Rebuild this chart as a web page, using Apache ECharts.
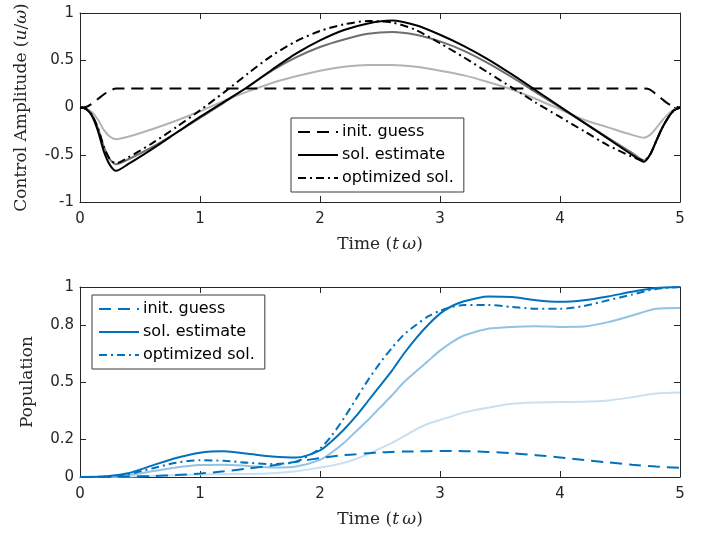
<!DOCTYPE html>
<html lang="en">
  <head>
    <meta charset="utf-8">
    <title>Control amplitude and population</title>
    <script src="https://cdn.jsdelivr.net/npm/echarts@6/dist/echarts.min.js"></script>
    <style>
      html, body { margin: 0; padding: 0; background: #fff; }
      #chart { width: 714px; height: 536px; }
    </style>
  </head>
  <body>
    <div id="chart"></div>
    <script type="text/javascript">
    // top panel: control amplitude u/omega
    const tTop = [0, 0.05, 0.1, 0.15, 0.2, 0.25, 0.3, 0.4, 0.6, 0.8, 1.0, 1.2, 1.4, 1.6, 1.8, 2.0, 2.2, 2.4, 2.6, 2.8,
      3.0, 3.2, 3.4, 3.6, 3.8, 4.0, 4.2, 4.4, 4.6, 4.7, 4.75, 4.8, 4.85, 4.9, 4.95, 5.0];
    const ctrlGuess = [0, 0.005, 0.04, 0.09, 0.14, 0.18, 0.2, 0.2, 0.2, 0.2, 0.2, 0.2, 0.2, 0.2, 0.2, 0.2, 0.2, 0.2, 0.2, 0.2,
      0.2, 0.2, 0.2, 0.2, 0.2, 0.2, 0.2, 0.2, 0.2, 0.2, 0.19, 0.14, 0.09, 0.04, 0.01, 0];
    const ctrlIter1 = [0, -0.01, -0.05, -0.13, -0.24, -0.31, -0.335, -0.31, -0.23, -0.14, -0.04, 0.07, 0.17, 0.26, 0.33, 0.39, 0.43, 0.45, 0.45, 0.43,
      0.39, 0.34, 0.27, 0.19, 0.09, -0.02, -0.13, -0.21, -0.29, -0.32, -0.29, -0.22, -0.14, -0.07, -0.02, 0];
    const ctrlIter2 = [0, -0.015, -0.08, -0.22, -0.42, -0.55, -0.6, -0.55, -0.42, -0.27, -0.11, 0.05, 0.22, 0.39, 0.53, 0.64, 0.72, 0.78, 0.8, 0.77,
      0.7, 0.6, 0.47, 0.32, 0.16, 0.0, -0.16, -0.32, -0.48, -0.56, -0.5, -0.36, -0.22, -0.11, -0.03, 0];
    const ctrlEstimate = [0, -0.015, -0.09, -0.25, -0.47, -0.61, -0.67, -0.6, -0.44, -0.27, -0.1, 0.06, 0.22, 0.4, 0.57, 0.71, 0.82, 0.89, 0.92, 0.87,
      0.77, 0.65, 0.51, 0.35, 0.18, 0.01, -0.16, -0.33, -0.5, -0.575, -0.5, -0.36, -0.22, -0.11, -0.03, 0];
    const ctrlOptimized = [0, -0.015, -0.08, -0.22, -0.42, -0.55, -0.59, -0.53, -0.38, -0.21, -0.03, 0.16, 0.36, 0.55, 0.7, 0.81, 0.88, 0.915, 0.9, 0.82,
      0.68, 0.53, 0.37, 0.21, 0.05, -0.1, -0.25, -0.4, -0.52, -0.56, -0.5, -0.36, -0.22, -0.11, -0.03, 0];

    // bottom panel: population
    const tBot = [0, 0.2, 0.4, 0.6, 0.8, 1.0, 1.2, 1.4, 1.6, 1.8, 2.0, 2.1, 2.2, 2.3, 2.4, 2.5, 2.6, 2.7, 2.8, 2.9,
      3.0, 3.1, 3.2, 3.4, 3.6, 3.8, 4.0, 4.2, 4.4, 4.6, 4.8, 5.0];
    const popGuess = [0, 0, 0.002, 0.005, 0.01, 0.018, 0.03, 0.045, 0.06, 0.08, 0.1, 0.108, 0.115, 0.12, 0.125, 0.129, 0.132, 0.134, 0.135, 0.136,
      0.137, 0.137, 0.136, 0.132, 0.125, 0.115, 0.103, 0.09, 0.077, 0.065, 0.055, 0.048];
    const popIter1 = [0, 0.001, 0.003, 0.006, 0.01, 0.013, 0.015, 0.016, 0.02, 0.03, 0.05, 0.06, 0.075, 0.095, 0.12, 0.15, 0.18, 0.215, 0.25, 0.28,
      0.3, 0.32, 0.34, 0.365, 0.385, 0.392, 0.395, 0.396, 0.403, 0.42, 0.44, 0.445];
    const popIter2 = [0, 0.001, 0.01, 0.03, 0.05, 0.063, 0.065, 0.058, 0.05, 0.055, 0.09, 0.13, 0.18, 0.24, 0.3, 0.365, 0.43, 0.5, 0.555, 0.61,
      0.665, 0.71, 0.745, 0.78, 0.79, 0.793, 0.79, 0.792, 0.815, 0.85, 0.885, 0.89];
    const popEstimate = [0, 0.002, 0.02, 0.06, 0.1, 0.128, 0.135, 0.122, 0.108, 0.102, 0.14, 0.19, 0.25, 0.32, 0.4, 0.48, 0.56, 0.65, 0.73, 0.8,
      0.86, 0.9, 0.925, 0.95, 0.947, 0.93, 0.922, 0.93, 0.95, 0.975, 0.995, 1.0];
    const popOptimized = [0, 0.002, 0.015, 0.045, 0.075, 0.088, 0.085, 0.075, 0.068, 0.08, 0.15, 0.22, 0.31, 0.41, 0.51, 0.6, 0.68, 0.75, 0.8, 0.845,
      0.875, 0.895, 0.905, 0.905, 0.895, 0.885, 0.885, 0.9, 0.93, 0.96, 0.99, 1.0];

    const popTicks = [0, 0.2, 0.5, 0.8, 1];
    const legendNames = ['init. guess', 'sol. estimate', 'optimized sol.'];

    const axisColor = '#262626';
    const sans = 'DejaVu Sans';
    const serif = 'DejaVu Serif';

    function pairs(xs, ys) {
      return xs.map((x, i) => [x, ys[i]]);
    }

    function line(name, xs, ys, color, type, idx) {
      return {
        name: name,
        type: 'line',
        xAxisIndex: idx,
        yAxisIndex: idx,
        data: pairs(xs, ys),
        showSymbol: false,
        symbol: 'none',
        smooth: 0.25,
        silent: true,
        lineStyle: { color: color, width: 2, type: type },
        itemStyle: { color: color },
        z: 3
      };
    }

    const nameStyle = {
      fontFamily: serif,
      fontSize: 17,
      color: axisColor,
      rich: { i: { fontFamily: serif, fontSize: 17, fontStyle: 'italic', color: axisColor } }
    };

    function xAxes(grid) {
      const base = {
        gridIndex: grid, type: 'value', min: 0, max: 5, interval: 1,
        splitLine: { show: false },
        axisLine: { onZero: false, lineStyle: { color: axisColor, width: 1 } },
        axisTick: { inside: true, length: 6, lineStyle: { color: axisColor } }
      };
      return [
        Object.assign({}, base, {
          position: 'bottom',
          name: 'Time ({i|t}\u2009{i|ω})',
          nameLocation: 'middle',
          nameGap: 34,
          nameTextStyle: nameStyle,
          axisLabel: { color: axisColor, fontFamily: sans, fontSize: 15, margin: 10 }
        }),
        Object.assign({}, base, { position: 'top', axisLabel: { show: false } })
      ];
    }

    function yAxes(grid, opts) {
      const base = {
        gridIndex: grid, type: 'value', min: opts.min, max: opts.max, interval: opts.interval,
        splitLine: { show: false },
        axisLine: { onZero: false, lineStyle: { color: axisColor, width: 1 } },
        axisTick: { inside: true, length: 6, lineStyle: { color: axisColor }, customValues: opts.ticks }
      };
      return [
        Object.assign({}, base, {
          position: 'left',
          name: opts.name,
          nameLocation: 'middle',
          nameGap: opts.gap,
          nameTextStyle: nameStyle,
          axisLabel: { color: axisColor, fontFamily: sans, fontSize: 15, margin: 6, customValues: opts.ticks }
        }),
        Object.assign({}, base, { position: 'right', axisLabel: { show: false } })
      ];
    }

    function legendBox(left, top, suffix) {
      return {
        orient: 'vertical',
        left: left,
        top: top,
        data: legendNames.map(n => n + suffix),
        formatter: n => n.trim(),
        itemWidth: 40,
        itemHeight: 14,
        itemGap: 7,
        padding: [6, 10, 6, 6],
        borderColor: '#3a3a3a',
        borderWidth: 1,
        borderRadius: 0,
        backgroundColor: '#fff',
        selectedMode: false,
        itemStyle: { opacity: 0 },
        textStyle: { fontFamily: sans, fontSize: 16, color: '#000', padding: [0, 0, 0, -1] }
      };
    }

    const chart = echarts.init(document.getElementById('chart'), null, { renderer: 'canvas' });
    chart.setOption({
      animation: false,
      backgroundColor: '#fff',
      grid: [
        { left: 80, top: 13, width: 600, height: 189 },
        { left: 80, top: 287, width: 600, height: 190 }
      ],
      xAxis: xAxes(0).concat(xAxes(1)),
      yAxis: yAxes(0, { min: -1, max: 1, interval: 0.5, name: 'Control Amplitude ({i|u}/{i|ω})', gap: 50 })
        .concat(yAxes(1, { min: 0, max: 1, interval: 0.1, ticks: popTicks, name: 'Population', gap: 44 })),
      legend: [legendBox(291, 118, ''), legendBox(92, 295, ' ')],
      series: [
        line('iter 1', tTop, ctrlIter1, '#b3b3b3', 'solid', 0),
        line('iter 2', tTop, ctrlIter2, '#6e6e6e', 'solid', 0),
        line('init. guess', tTop, ctrlGuess, '#000', [12, 7], 0),
        line('sol. estimate', tTop, ctrlEstimate, '#000', 'solid', 0),
        line('optimized sol.', tTop, ctrlOptimized, '#000', [8, 4, 2, 4], 0),
        line('pop iter 1', tBot, popIter1, '#c8e0f2', 'solid', 2),
        line('pop iter 2', tBot, popIter2, '#92c2e4', 'solid', 2),
        line('init. guess ', tBot, popGuess, '#0072bd', [12, 7], 2),
        line('sol. estimate ', tBot, popEstimate, '#0072bd', 'solid', 2),
        line('optimized sol. ', tBot, popOptimized, '#0072bd', [8, 4, 2, 4], 2)
      ]
    });
    </script>
  </body>
</html>
